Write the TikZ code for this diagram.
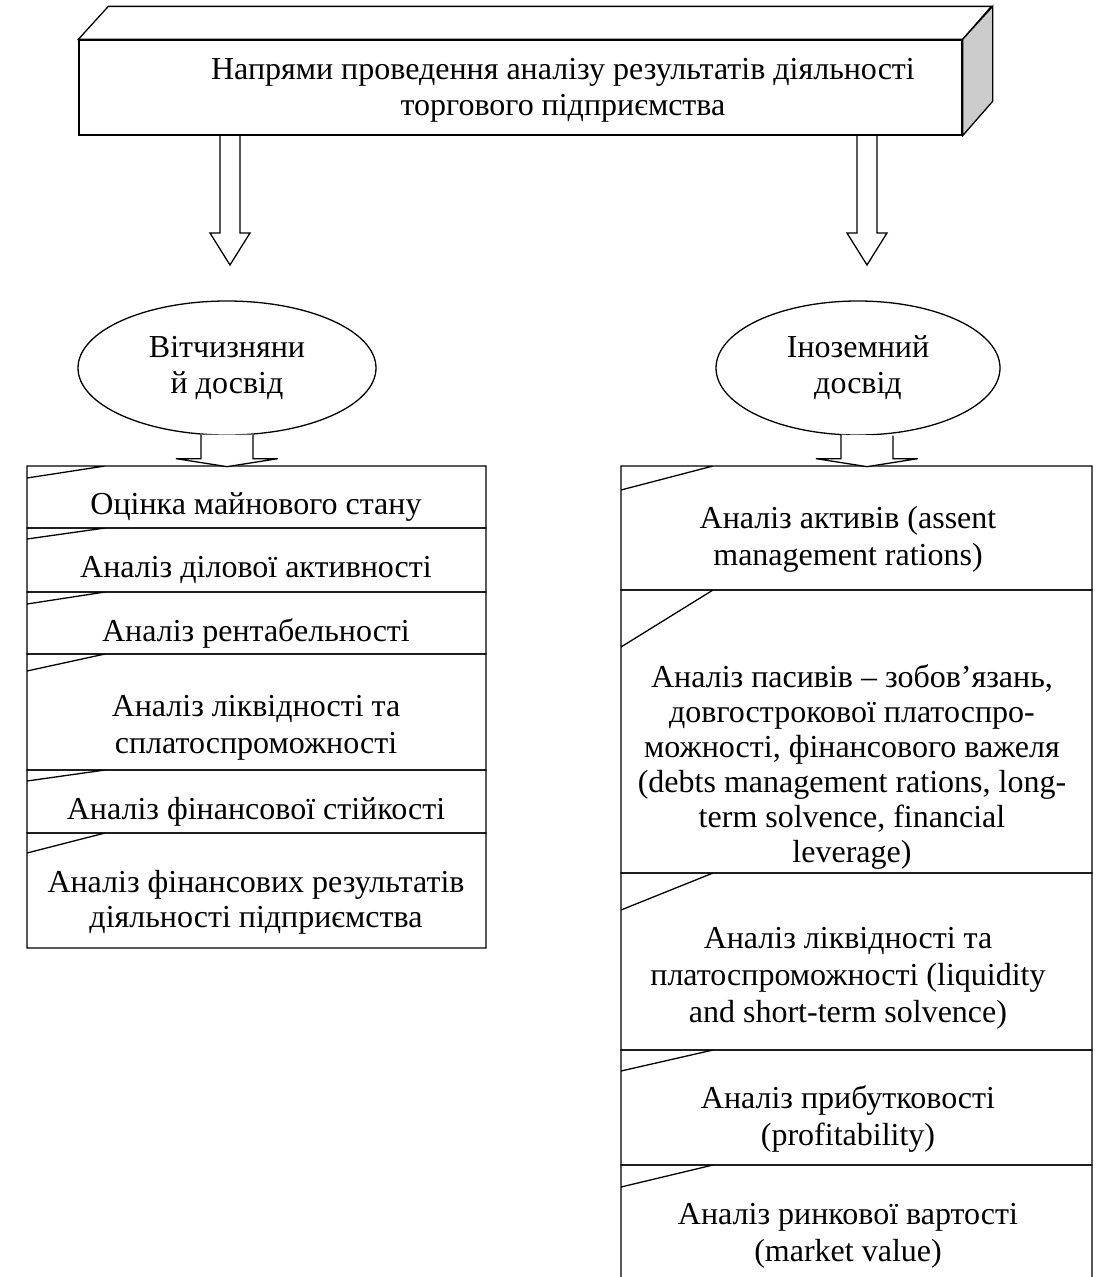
\documentclass[tikz,border=0pt]{standalone}
\usepackage{fontspec}
\setmainfont{Liberation Serif}
\usetikzlibrary{shapes.geometric}
\definecolor{sideface}{HTML}{CCCCCC}
\tikzset{outl/.style={draw=black,line width=1.3pt},
 txt/.style={align=center,font=\fontsize{32}{37}\selectfont,inner sep=0pt},
 oval/.style={ellipse,outl,fill=white,minimum width=298pt,minimum height=134pt,inner sep=0pt,
 align=center,font=\fontsize{32}{36}\selectfont},
 hollow/.style={outl,fill=white,line join=miter}}

\begin{document}
\begin{tikzpicture}[x=1pt,y=-1pt]
\useasboundingbox (0,0) rectangle (1098,1277);
% hollow arrows under the header
\draw[hollow] (220,125) -- (220,233) -- (210,233) -- (230,265) -- (250,233) -- (240,233) -- (240,125) -- cycle;
\draw[hollow] (857,125) -- (857,233) -- (847,233) -- (867,265) -- (887,233) -- (877,233) -- (877,125) -- cycle;
% header block
\node[outl,fill=white,minimum width=883pt,minimum height=95pt,inner sep=0pt] (head) at (520.5,87.5) {};
\draw[outl,fill=white] (head.north west) -- ++(30,-33) -- ++(883,0) -- (head.north east) -- cycle;
\draw[outl,fill=sideface] (head.north east) -- ++(30,-33) -- ++(0,95) -- (head.south east) -- cycle;
\node[txt,font=\fontsize{32}{36}\selectfont] (headtext) at (563,90) {Напрями проведення аналізу результатів діяльності\\торгового підприємства};
% stacks
\foreach \ytop/\ybot/\ycut in {466/528/478,528/592/539,592/654/604,654/770/671,770/833/781,833/948/853}
 \draw[outl] (27,\ytop) rectangle (486,\ybot) (27,\ycut) -- (105,\ytop);
\foreach \ytop/\ybot/\ycut in {466/590/490,590/873/647,873/1050/910,1050/1165/1071,1165/1295/1187}
 \draw[outl] (621,\ytop) rectangle (1092,\ybot) (621,\ycut) -- (713,\ytop);
% ovals and small arrows
\node[oval] (home) at (227,368) {Вітчизняни\\й досвід};
\node[oval,minimum width=284pt] (abroad) at (858,368) {Іноземний\\досвід};
\draw[hollow] (home.south) ++(-26,-1) -- ++(0,24) -- ++(-25,0) -- ++(51,8) -- ++(51,-8) -- ++(-25,0) -- ++(0,-24);
\draw[hollow] (abroad.south) ++(-17,-1) -- ++(0,24) -- ++(-25,0) -- ++(51,8) -- ++(51,-8) -- ++(-25,0) -- ++(0,-23);
% texts, left
\node[txt] (own1) at (256,507) {Оцінка майнового стану};
\node[txt] (own2) at (256,570) {Аналіз ділової активності};
\node[txt] (own3) at (256,633) {Аналіз рентабельності};
\node[txt] (own4) at (256,728) {Аналіз ліквідності та\\сплатоспроможності};
\node[txt] (own5) at (256,812) {Аналіз фінансової стійкості};
\node[txt,font=\fontsize{32}{35}\selectfont] (own6) at (256,902) {Аналіз фінансових результатів\\діяльності підприємства};
% texts, right
\node[txt] (for1) at (848,539) {Аналіз активів (assent\\management rations)};
\node[txt,font=\fontsize{32}{35}\selectfont] (for2) at (852,767) {Аналіз пасивів – зобов’язань,\\довгострокової платоспро-\\можності, фінансового важеля\\(debts management rations, long-\\term solvence, financial\\leverage)};
\node[txt] (for3) at (848,978) {Аналіз ліквідності та\\платоспроможності (liquidity\\and short-term solvence)};
\node[txt] (for4) at (848,1119) {Аналіз прибутковості\\(profitability)};
\node[txt] (for5) at (848,1236) {Аналіз ринкової вартості\\(market value)};
\end{tikzpicture}
\end{document}
